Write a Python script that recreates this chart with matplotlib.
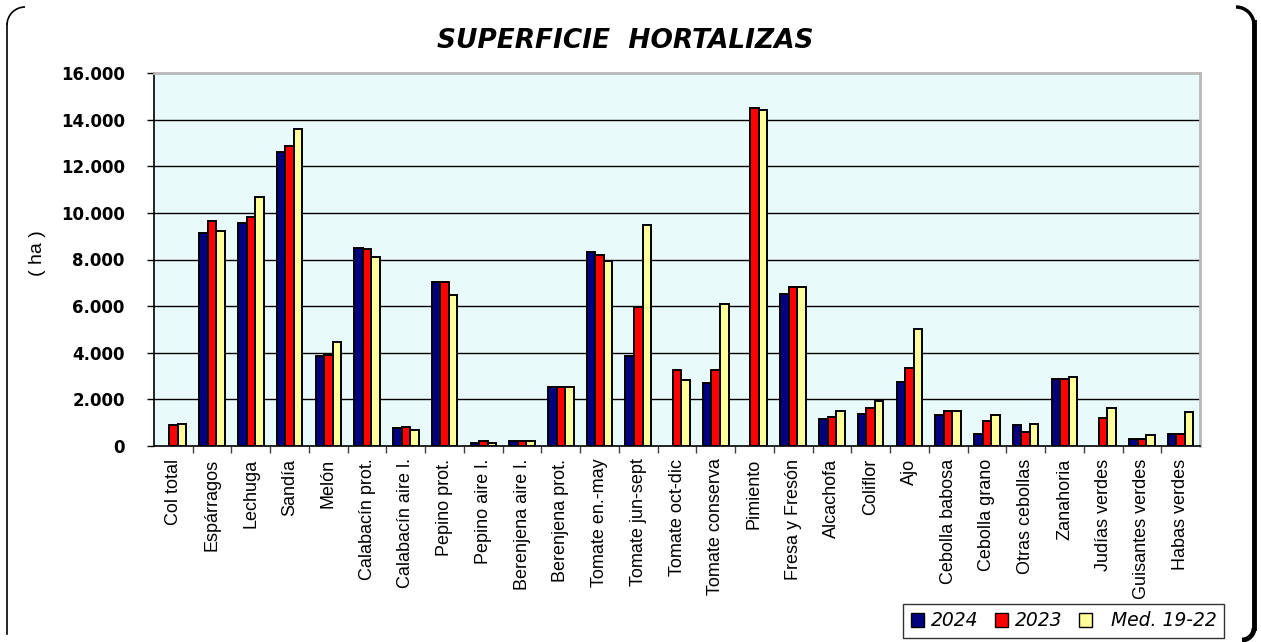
import numpy as np
import matplotlib
matplotlib.use("Agg")
import matplotlib.pyplot as plt
from matplotlib.patches import Arc, Patch
from matplotlib.lines import Line2D

categories = ["Col total", "Espárragos", "Lechuga", "Sandía", "Melón",
              "Calabacín prot.", "Calabacín aire l.", "Pepino prot.",
              "Pepino aire l.", "Berenjena aire l.", "Berenjena prot.",
              "Tomate en.-may", "Tomate jun-sept", "Tomate oct-dic",
              "Tomate conserva", "Pimiento", "Fresa y Fresón", "Alcachofa",
              "Coliflor", "Ajo", "Cebolla babosa", "Cebolla grano",
              "Otras cebollas", "Zanahoria", "Judías verdes",
              "Guisantes verdes", "Habas verdes"]

v2024 = [0, 9130, 9560, 12610, 3870, 8480, 770, 7020, 140, 200, 2520,
         8310, 3840, 0, 2720, 0, 6500, 1170, 1390, 2750, 1350, 500,
         900, 2870, 0, 290, 500]
v2023 = [890, 9670, 9840, 12890, 3910, 8440, 830, 7020, 230, 200, 2520,
         8180, 5960, 3270, 3280, 14480, 6810, 1260, 1650, 3350, 1500, 1090,
         600, 2890, 1190, 290, 530]
vmed = [945, 9240, 10670, 13580, 4440, 8120, 690, 6490, 140, 230, 2520,
        7950, 9500, 2850, 6100, 14400, 6830, 1500, 1910, 5000, 1500, 1330,
        950, 2970, 1650, 490, 1450]

series_labels = ["2024", "2023", "  Med. 19-22"]
series_colors = ["#000080", "#ff0000", "#ffff99"]
yticks = [0, 2000, 4000, 6000, 8000, 10000, 12000, 14000, 16000]
ytick_labels = ["0", "2.000", "4.000", "6.000", "8.000", "10.000",
                "12.000", "14.000", "16.000"]

W, H = 1261, 642
fig = plt.figure(figsize=(W / 100, H / 100), dpi=100)
fig.patch.set_facecolor("white")

ax = fig.add_axes([154 / W, 1 - 446 / H, 1046 / W, 373 / H])
ax.set_facecolor("#e9fafa")

x = np.arange(len(categories))
bw = 0.22
for i, (vals, col) in enumerate(zip([v2024, v2023, vmed], series_colors)):
    vals = np.array(vals, dtype=float)
    m = vals > 0
    ax.bar(x[m] + (i - 1) * bw, vals[m], width=bw, color=col,
           edgecolor="black", linewidth=1.4, zorder=3)

ax.set_xlim(-0.5, len(categories) - 0.5)
ax.set_ylim(0, 16000)
ax.set_yticks(yticks)
ax.set_yticklabels(ytick_labels, fontfamily="DejaVu Sans",
                   fontweight="bold", fontsize=12)
ax.tick_params(axis="y", length=5, width=1, pad=16, direction="out")

ax.set_xticks(x)
ax.set_xticklabels(categories, rotation=90, fontfamily="Liberation Sans",
                   fontsize=13, va="top", ha="center")
ax.tick_params(axis="x", which="major", length=0, pad=9)
ax.set_xticks(np.arange(0.5, len(categories) - 0.5, 1), minor=True)
ax.tick_params(axis="x", which="minor", length=5, width=1,
               color="#404040", direction="out")

for yv in yticks[1:-1]:
    ax.axhline(yv, color="black", linewidth=1.0, zorder=1)

for s in ["top", "right"]:
    ax.spines[s].set_color("#b8b8b8")
    ax.spines[s].set_linewidth(2)
for s in ["left", "bottom"]:
    ax.spines[s].set_color("black")
    ax.spines[s].set_linewidth(1.2)

fig.text(37 / W, 1 - 253 / H, "( ha )", rotation=90, ha="center",
         va="center", fontfamily="Liberation Sans", fontsize=14)

fig.text(625 / W, 1 - 41 / H, "SUPERFICIE  HORTALIZAS", ha="center",
         va="center", fontfamily="DejaVu Sans", fontweight="bold",
         fontstyle="italic", fontsize=19)

handles = [Patch(facecolor=c, edgecolor="black", linewidth=1.0)
           for c in series_colors]
leg = fig.legend(handles, series_labels, ncol=3, loc="lower right",
                 bbox_to_anchor=(1224 / W, 1 - 638 / H),
                 prop={"family": "DejaVu Sans", "style": "italic",
                       "size": 13.5},
                 handlelength=0.7, handleheight=0.7, handletextpad=0.35,
                 columnspacing=0.9, borderpad=0.4, fancybox=False,
                 frameon=True, borderaxespad=0)
leg.get_frame().set_edgecolor("black")
leg.get_frame().set_linewidth(1.0)

def fx(px):
    return px / W

def fy(py):
    return 1 - py / H

fig.add_artist(Line2D([fx(7), fx(7)], [fy(24), fy(634)], color="black",
                      linewidth=1.2, transform=fig.transFigure))
fig.add_artist(Line2D([fx(1254), fx(1254)], [fy(22), fy(628)],
                      color="black", linewidth=3.5,
                      transform=fig.transFigure))
r = 18
fig.add_artist(Arc((fx(7 + r), fy(7 + r)), 2 * r / W, 2 * r / H,
                   theta1=90, theta2=180, color="black", linewidth=1.2,
                   transform=fig.transFigure))
fig.add_artist(Arc((fx(1254 - r), fy(7 + r)), 2 * r / W, 2 * r / H,
                   theta1=0, theta2=90, color="black", linewidth=2.5,
                   transform=fig.transFigure))
fig.add_artist(Arc((fx(1254 - 12), fy(628)), 24 / W, 24 / H,
                   theta1=270, theta2=360, color="black", linewidth=3.5,
                   transform=fig.transFigure))

fig.savefig("out.png", dpi=100, facecolor="white")
